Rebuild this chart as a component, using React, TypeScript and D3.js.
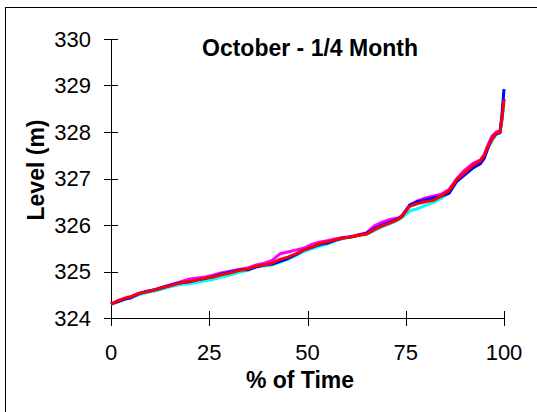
import React from "react";
import * as d3 from "d3";

const xPct = [0, 2, 4, 5, 7, 9, 11, 13, 15, 17, 20, 22, 24, 26, 28, 30, 33, 35, 37, 39, 41, 43, 45, 47, 49, 51, 53, 55, 57, 59, 61, 63, 65, 67, 69, 71, 73, 74, 76, 78, 80, 82, 84, 86, 88, 90, 92, 94, 95, 96, 97, 98, 99, 99.5, 100];

const cyanSeries = [324.30, 324.37, 324.42, 324.44, 324.50, 324.54, 324.58, 324.62, 324.67, 324.71, 324.74, 324.77, 324.80, 324.83, 324.88, 324.92, 324.99, 325.03, 325.10, 325.12, 325.14, 325.20, 325.26, 325.34, 325.43, 325.49, 325.54, 325.59, 325.66, 325.71, 325.74, 325.78, 325.80, 325.88, 325.96, 326.03, 326.10, 326.16, 326.30, 326.35, 326.42, 326.48, 326.57, 326.70, 326.95, 327.10, 327.26, 327.36, 327.48, 327.66, 327.82, 327.94, 327.98, 328.25, 328.65];

const magentaSeries = [324.30, 324.38, 324.44, 324.46, 324.53, 324.57, 324.61, 324.66, 324.71, 324.76, 324.84, 324.86, 324.88, 324.92, 324.97, 325.00, 325.05, 325.08, 325.14, 325.18, 325.24, 325.38, 325.42, 325.46, 325.50, 325.58, 325.63, 325.66, 325.70, 325.73, 325.75, 325.79, 325.83, 325.98, 326.06, 326.12, 326.15, 326.20, 326.42, 326.52, 326.58, 326.62, 326.66, 326.76, 327.00, 327.18, 327.32, 327.40, 327.52, 327.74, 327.92, 328.00, 328.02, 328.30, 328.72];

const blueSeries = [324.30, 324.36, 324.42, 324.43, 324.52, 324.57, 324.60, 324.65, 324.70, 324.75, 324.78, 324.82, 324.85, 324.89, 324.94, 324.98, 325.04, 325.04, 325.10, 325.14, 325.16, 325.22, 325.28, 325.36, 325.46, 325.52, 325.58, 325.61, 325.67, 325.72, 325.74, 325.78, 325.82, 325.92, 326.00, 326.06, 326.13, 326.18, 326.43, 326.50, 326.54, 326.58, 326.62, 326.68, 326.94, 327.08, 327.22, 327.32, 327.44, 327.68, 327.86, 327.96, 327.99, 328.40, 328.92];

const redSeries = [324.30, 324.38, 324.44, 324.45, 324.53, 324.56, 324.60, 324.65, 324.69, 324.74, 324.79, 324.82, 324.86, 324.88, 324.93, 324.96, 325.03, 325.06, 325.12, 325.14, 325.18, 325.26, 325.31, 325.38, 325.46, 325.52, 325.60, 325.64, 325.68, 325.72, 325.74, 325.78, 325.80, 325.90, 325.98, 326.04, 326.12, 326.18, 326.40, 326.46, 326.50, 326.53, 326.62, 326.74, 326.98, 327.12, 327.28, 327.38, 327.50, 327.70, 327.85, 327.97, 328.00, 328.30, 328.70];

const seriesList = [
  { name: "cyan", color: "#00FFFF", values: cyanSeries },
  { name: "magenta", color: "#FF00FF", values: magentaSeries },
  { name: "blue", color: "#0000FF", values: blueSeries },
  { name: "red", color: "#FF0000", values: redSeries },
];

const xTicks = [0, 25, 50, 75, 100];
const yTicks = [324, 325, 326, 327, 328, 329, 330];

const titleText = "October - 1/4 Month";
const xLabel = "% of Time";
const yLabel = "Level (m)";

export default function App() {
  const W = 537, H = 412;
  const left = 111, right = 504, top = 39, bottom = 318;
  const x = d3.scaleLinear().domain([0, 100]).range([left, right]);
  const y = d3.scaleLinear().domain([324, 330]).range([bottom, top]);
  const font = "'Liberation Sans', Arial, Helvetica, sans-serif";

  const line = (vals: number[]) =>
    d3.line<number>().x((_, i) => x(xPct[i])).y((v) => y(v))(vals) || "";

  return (
    <svg width={W} height={H} style={{ position: "fixed", left: 0, top: 0, background: "#fff" }} fontFamily={font}>
      <rect x={0} y={0} width={W} height={H} fill="#fff" />
      <rect x={5.5} y={7.5} width={W + 10} height={H + 10} fill="none" stroke="#000" strokeWidth={1} />
      {/* axes */}
      <line x1={left + 0.5} x2={left + 0.5} y1={top} y2={bottom} stroke="#000" strokeWidth={1} />
      <line x1={left - 7} x2={right} y1={bottom + 0.5} y2={bottom + 0.5} stroke="#000" strokeWidth={1} />
      {yTicks.map((t) => (
        <g key={"y" + t}>
          <line x1={left - 7} x2={left + 7} y1={Math.round(y(t)) + 0.5} y2={Math.round(y(t)) + 0.5} stroke="#000" strokeWidth={1} />
          <text x={91} y={y(t)} dy="0.36em" textAnchor="end" fontSize={22} fill="#000">{t}</text>
        </g>
      ))}
      {xTicks.map((t) => (
        <g key={"x" + t}>
          <line x1={Math.round(x(t)) + 0.5} x2={Math.round(x(t)) + 0.5} y1={bottom - 7} y2={bottom + 8} stroke="#000" strokeWidth={1} />
          <text x={x(t)} y={360} textAnchor="middle" fontSize={22} fill="#000">{t}</text>
        </g>
      ))}
      {/* series */}
      {seriesList.map((s) => (
        <path key={s.name} d={line(s.values)} fill="none" stroke={s.color} strokeWidth={3} strokeLinejoin="round" />
      ))}
      <text x={310} y={56} textAnchor="middle" fontSize={23} fontWeight="bold" fill="#000">{titleText}</text>
      <text x={300} y={388} textAnchor="middle" fontSize={23} fontWeight="bold" fill="#000">{xLabel}</text>
      <text transform={`translate(44,170) rotate(-90)`} textAnchor="middle" fontSize={23} fontWeight="bold" fill="#000">{yLabel}</text>
    </svg>
  );
}
